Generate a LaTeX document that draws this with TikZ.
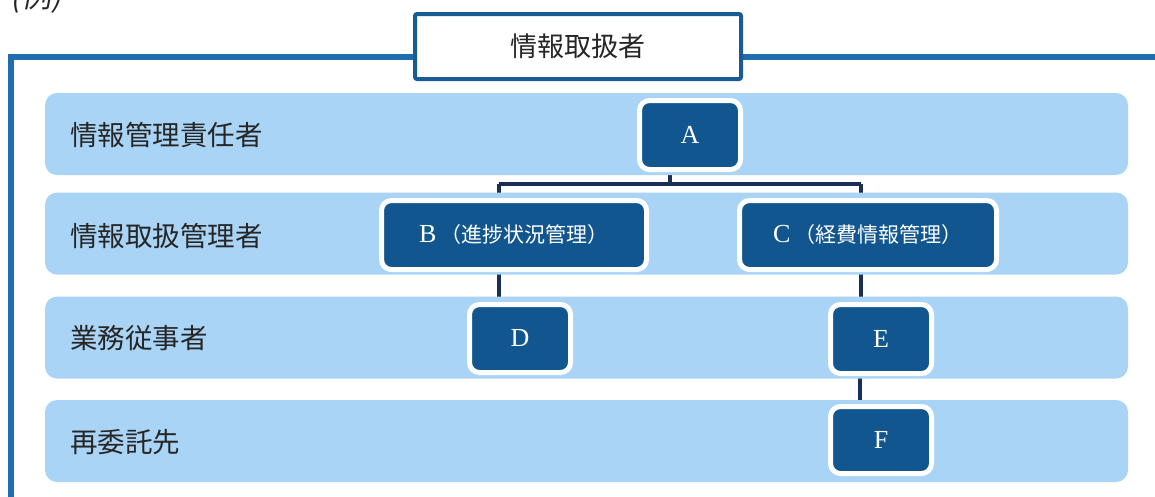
\documentclass[tikz,border=0pt]{standalone}
\usepackage{fontspec}
\setmainfont{Liberation Serif}
\newfontfamily\jp{Noto Sans CJK JP}
\newfontfamily\jpsl[FakeSlant=0.2]{Noto Sans CJK JP}
\usetikzlibrary{backgrounds}
\definecolor{framebl}{HTML}{1F6DAE}
\definecolor{titlebd}{HTML}{1A5B94}
\definecolor{rowbl}{HTML}{AAD4F6}
\definecolor{boxbl}{HTML}{11568F}
\definecolor{linebl}{HTML}{1A2F55}
\definecolor{labtxt}{HTML}{262626}
\tikzset{
  framest/.style={draw=framebl, line width=6pt},
  titlebox/.style={draw=titlebd, line width=4pt, fill=white, rounded corners=2pt,
    minimum width=326pt, minimum height=65pt, inner sep=0pt,
    font=\jp\fontsize{27}{30}\selectfont, text=labtxt},
  rowbox/.style={fill=rowbl, rounded corners=12pt, minimum width=1083pt,
    minimum height=82pt, inner sep=0pt},
  rowlabel/.style={font=\jp\fontsize{27.5}{30}\selectfont, text=labtxt,
    anchor=west, inner sep=0pt},
  role/.style={fill=boxbl, draw=white, line width=5pt, rounded corners=10pt,
    text=white, inner sep=0pt, font=\fontsize{26}{30}\selectfont},
  conn/.style={draw=linebl, line width=4.5pt}
}
\begin{document}
\begin{tikzpicture}[x=1pt,y=-1pt]
\clip (0,0) rectangle (1155,496);

\node[anchor=base, font=\jpsl\fontsize{30}{32}\selectfont, text=labtxt, inner sep=0pt] (rei) at (36,7) {(例)};

% rows
\node[rowbox] (r1) at (586.5,134) {};
\node[rowbox] (r2) at (586.5,233.5) {};
\node[rowbox] (r3) at (586.5,337.5) {};
\node[rowbox] (r4) at (586.5,441) {};

\node[rowlabel] (l1) at (70,135) {情報管理責任者};
\node[rowlabel] (l2) at (70,236) {情報取扱管理者};
\node[rowlabel] (l3) at (70,338) {業務従事者};
\node[rowlabel] (l4) at (70,442) {再委託先};

% title
\node[titlebox] (title) at (578,46.5) {情報取扱者};

% role boxes
\node[role, minimum width=101pt, minimum height=69pt] (A) at (690,135) {A};
\node[role, minimum width=265pt, minimum height=69pt] (B) at (514,235) {B\,{\jp\fontsize{21}{24}\selectfont （進捗状況管理）}};
\node[role, minimum width=257pt, minimum height=69pt] (C) at (868,235) {C\,{\jp\fontsize{21}{24}\selectfont （経費情報管理）}};
\node[role, minimum width=101pt, minimum height=68pt] (D) at (520,338.5) {D};
\node[role, minimum width=101pt, minimum height=69pt] (E) at (881,339) {E};
\node[role, minimum width=101pt, minimum height=67pt] (F) at (881,440) {F};

\begin{scope}[on background layer]
  \fill[white] (0,0) rectangle (1155,496);
  \coordinate (fl) at (11,57);
  \coordinate (fb) at (11,520);
  \coordinate (fr) at (1175,57);
  \draw[framest] (fr) -- (fl) -- (fb);
  \coordinate (hy) at (0,184);
  \draw[conn] ([xshift=-20pt]A.south) -- ([xshift=-20pt]A.south |- hy);
  \draw[conn] ([xshift=-15pt]B.north |- hy) -- ([xshift=-7pt]C.north |- hy);
  \draw[conn] ([xshift=-15pt]B.north |- hy) -- ([xshift=-15pt]B.north);
  \draw[conn] ([xshift=-7pt]C.north |- hy) -- ([xshift=-7pt]C.north);
  \draw[conn] ([xshift=-15pt]B.south) -- ([xshift=-15pt]B.south |- D.north);
  \draw[conn] ([xshift=-7pt]C.south) -- ([xshift=-7pt]C.south |- E.north);
  \draw[conn] ([xshift=-21pt]E.south) -- ([xshift=-21pt]F.north);
\end{scope}
\end{tikzpicture}
\end{document}
